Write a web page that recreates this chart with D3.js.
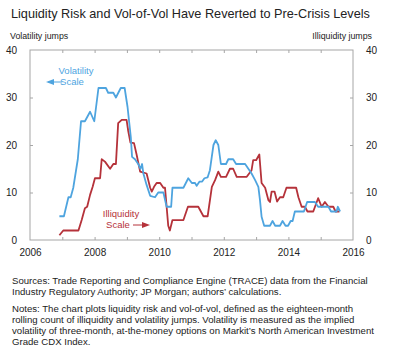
<!DOCTYPE html>
<html><head><meta charset="utf-8">
<script src="https://cdn.jsdelivr.net/npm/d3@7"></script>
<style>body{margin:0;background:#fff;} svg{display:block;font-family:"Liberation Sans",Arial,sans-serif;}</style>
</head><body>
<svg id="c" width="400" height="359"></svg>
<script>
const title = "Liquidity Risk and Vol-of-Vol Have Reverted to Pre-Crisis Levels";
const leftAxisTitle = "Volatility jumps";
const rightAxisTitle = "Illiquidity jumps";
const xTickLabels = [2006, 2008, 2010, 2012, 2014, 2016];
const xMinorTicks = [2007, 2008, 2009, 2010, 2011, 2012, 2013, 2014, 2015];
const yTickLabels = [0, 10, 20, 30, 40];

const volDates = [2006.91,2007.05,2007.19,2007.26,2007.34,2007.48,2007.58,2007.70,2007.86,2007.99,2008.12,2008.35,2008.42,2008.58,2008.66,2008.81,2008.93,2009.02,2009.12,2009.16,2009.25,2009.35,2009.42,2009.47,2009.51,2009.61,2009.72,2009.87,2009.97,2010.13,2010.23,2010.37,2010.41,2010.75,2010.90,2011.01,2011.11,2011.16,2011.25,2011.33,2011.40,2011.50,2011.57,2011.68,2011.75,2011.83,2011.91,2012.07,2012.14,2012.29,2012.38,2012.66,2012.76,2012.86,2012.97,2013.07,2013.12,2013.17,2013.25,2013.43,2013.51,2013.59,2013.74,2013.82,2013.91,2013.99,2014.07,2014.13,2014.20,2014.48,2014.58,2014.82,2014.92,2015.24,2015.32,2015.49,2015.53,2015.60];
const volValues = [5,5,9,9,11,17,25,25,27,25,32,32,31,31,30,32,32,28,21.7,17.5,17,16,15,16,14,11.6,9.3,9,10,10,7,7,11,11,13,12,12,11.4,12.3,12.3,13,13.2,14.7,20,21,20,16,16,17,17,16,16,15,14,12.6,11.2,8.4,4.9,3,3,4,3,3,4,3,3,4,4,6,6,8,8,7,7,6,6,7,6];

const illDates = [2006.91,2007.03,2007.50,2007.60,2007.70,2007.77,2007.86,2007.94,2008.01,2008.17,2008.22,2008.32,2008.48,2008.58,2008.66,2008.73,2008.84,2008.99,2009.04,2009.11,2009.22,2009.30,2009.41,2009.61,2009.72,2009.77,2009.84,2009.92,2010.03,2010.13,2010.18,2010.28,2010.33,2010.41,2010.75,2010.89,2011.21,2011.37,2011.50,2011.63,2011.73,2011.83,2011.91,2012.07,2012.19,2012.29,2012.40,2012.71,2012.86,2012.91,2013.00,2013.10,2013.17,2013.28,2013.38,2013.43,2013.48,2013.57,2013.65,2013.74,2013.84,2013.94,2014.24,2014.31,2014.41,2014.51,2014.59,2014.77,2014.92,2015.03,2015.13,2015.24,2015.39,2015.46,2015.58];
const illValues = [1,2,2,4.2,6.7,7,9.5,11.2,13,13,17,16.5,15,16,16,24.6,25.3,25.3,23,20.5,20.4,18,14.4,14,11,10.2,11.2,12,12,11,11,3,2,4.2,4.2,7,7,5,5,11.2,12.6,14.4,13.3,13.3,15,15,13.3,13.3,14.7,16.8,16.8,18,12,11,8.4,8,10.2,10.2,8.1,9,9,11,11,9,7,7,6,6,8.8,7,8,7,7,6,6];

const volColor = "#4ea4df", illColor = "#b5323a", axisColor = "#a6a6a6", textColor = "#222";

const svg = d3.select("#c");
const L = 30, R = 353, T = 50, B = 240;
const x = d3.scaleLinear().domain([2006, 2016]).range([L, R]);
const y = d3.scaleLinear().domain([0, 40]).range([B, T]);

svg.append("text").attr("x", 11).attr("y", 18).attr("font-size", 12.7).attr("fill", textColor).text(title);
svg.append("text").attr("x", 10).attr("y", 39).attr("font-size", 8.8).attr("fill", textColor).text(leftAxisTitle);
svg.append("text").attr("x", 372).attr("y", 39).attr("font-size", 8.8).attr("fill", textColor).attr("text-anchor", "end").text(rightAxisTitle);

// frame
svg.append("rect").attr("x", L).attr("y", T).attr("width", R - L).attr("height", B - T)
  .attr("fill", "none").attr("stroke", axisColor).attr("stroke-width", 1);

// bottom axis labels
const gb = svg.append("g").attr("transform", `translate(0,${B})`)
  .call(d3.axisBottom(x).tickValues(xTickLabels).tickFormat(d3.format("d")).tickSize(0).tickPadding(9));
gb.select(".domain").remove();
gb.selectAll("text").attr("font-size", 10).attr("fill", textColor).attr("font-family", "Liberation Sans, Arial, sans-serif");

// year ticks inward, bottom and top
const gbt = svg.append("g").attr("transform", `translate(0,${B})`)
  .call(d3.axisBottom(x).tickValues(xMinorTicks).tickSize(-3).tickFormat(""));
gbt.select(".domain").remove();
const gtt = svg.append("g").attr("transform", `translate(0,${T})`)
  .call(d3.axisTop(x).tickValues(xMinorTicks).tickSize(-3).tickFormat(""));
gtt.select(".domain").remove();

// left and right axes
const gl = svg.append("g").attr("transform", `translate(${L},0)`)
  .call(d3.axisLeft(y).tickValues(yTickLabels).tickSize(-3).tickPadding(13));
gl.select(".domain").remove();
gl.selectAll("text").attr("font-size", 10).attr("fill", textColor).attr("font-family", "Liberation Sans, Arial, sans-serif");
const gr = svg.append("g").attr("transform", `translate(${R},0)`)
  .call(d3.axisRight(y).tickValues(yTickLabels).tickSize(-3).tickPadding(13));
gr.select(".domain").remove();
gr.selectAll("text").attr("font-size", 10).attr("fill", textColor).attr("font-family", "Liberation Sans, Arial, sans-serif");
svg.selectAll(".tick line").attr("stroke", axisColor);
svg.selectAll(".tick").filter(d => d === 0 || d === 40).select("line").remove();

// lines
const line = d3.line().x(d => x(d[0])).y(d => y(d[1]));
svg.append("path").datum(d3.zip(illDates, illValues)).attr("d", line)
  .attr("fill", "none").attr("stroke", illColor).attr("stroke-width", 1.8).attr("stroke-linejoin", "round");
svg.append("path").datum(d3.zip(volDates, volValues)).attr("d", line)
  .attr("fill", "none").attr("stroke", volColor).attr("stroke-width", 1.8).attr("stroke-linejoin", "round");

// annotations
svg.append("text").attr("x", 76).attr("y", 74).attr("font-size", 9.5).attr("text-anchor", "middle").attr("fill", volColor).text("Volatility");
svg.append("text").attr("x", 72).attr("y", 85).attr("font-size", 9.5).attr("text-anchor", "middle").attr("fill", volColor).text("Scale");
svg.append("line").attr("x1", 48).attr("x2", 62).attr("y1", 82).attr("y2", 82).attr("stroke", volColor).attr("stroke-width", 1);
svg.append("path").attr("d", "M46,82 L54,79 L54,85 Z").attr("fill", volColor);

svg.append("text").attr("x", 121).attr("y", 217).attr("font-size", 9.5).attr("text-anchor", "middle").attr("fill", illColor).text("Illiquidity");
svg.append("text").attr("x", 118).attr("y", 228).attr("font-size", 9.5).attr("text-anchor", "middle").attr("fill", illColor).text("Scale");
svg.append("line").attr("x1", 133).attr("x2", 145).attr("y1", 225).attr("y2", 225).attr("stroke", illColor).attr("stroke-width", 1);
svg.append("path").attr("d", "M150,225 L142,222 L142,228 Z").attr("fill", illColor);

// notes
const notes = [
  [283.5, "Sources: Trade Reporting and Compliance Engine (TRACE) data from the Financial"],
  [294.5, "Industry Regulatory Authority; JP Morgan; authors\u2019 calculations."],
  [311.5, "Notes: The chart plots liquidity risk and vol-of-vol, defined as the eighteen-month"],
  [322.5, "rolling count of illiquidity and volatility jumps. Volatility is measured as the implied"],
  [333.5, "volatility of three-month, at-the-money options on Markit\u2019s North American Investment"],
  [344.5, "Grade CDX Index."]
];
svg.selectAll("text.note").data(notes).enter().append("text").attr("class", "note")
  .attr("x", 12).attr("y", d => d[0]).attr("font-size", 9.6).attr("fill", textColor).text(d => d[1]);
</script>
</body></html>
